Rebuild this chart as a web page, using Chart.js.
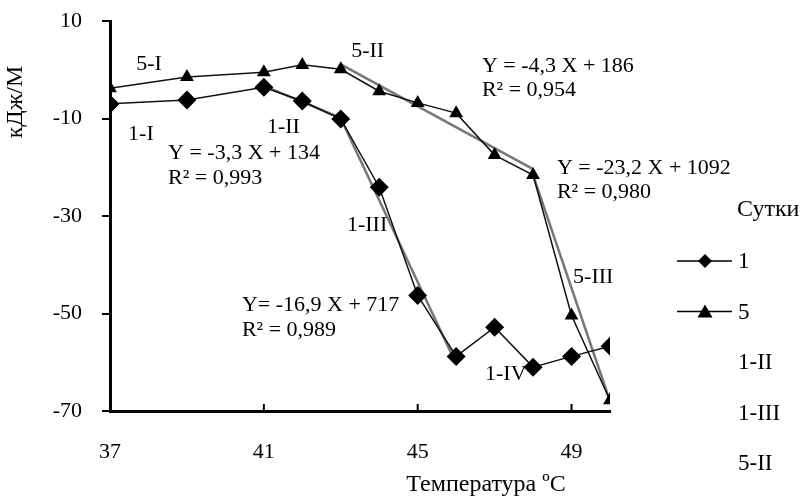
<!DOCTYPE html>
<html>
<head>
<meta charset="utf-8">
<script src="https://cdn.jsdelivr.net/npm/chart.js@4.4.1/dist/chart.umd.min.js"></script>
<style>
  html, body { margin: 0; padding: 0; background: #fff; }
  #wrap { width: 805px; height: 497px; position: relative; }
</style>
</head>
<body>
<div id="wrap"><canvas id="myChart"></canvas></div>
<script>
const FONT = "'Liberation Serif', 'DejaVu Serif', serif";

// temperature (ºC)
const temps = [37, 39, 41, 42, 43, 44, 45, 46, 47, 48, 49, 50];
// day 1 and day 5, kJ/M
const day1 = [-7.0, -6.2, -3.6, -6.4, -10.1, -24.1, -46.3, -58.8, -52.8, -61.0, -58.8, -56.7];
const day5 = [-3.8, -1.5, -0.5, 1.0, 0.1, -4.4, -6.8, -8.9, -17.5, -21.6, -50.4, -67.8];

// trend segments (x, y endpoints)
const trend1II = { x: [41, 43], y: [-3.3, -9.9] };
const trend1III = { x: [43, 46], y: [-10.0, -60.3] };
const trend5II = { x: [43, 48], y: [1.1, -20.4] };
const trend5III = { x: [48, 50], y: [-21.6, -68.0] };

const xTicks = [37, 41, 45, 49];
const yTicks = [-70, -50, -30, -10, 10];

const legendTitle = "Сутки";
const legendItems = ["1", "5", "1-II", "1-III", "5-II"];

// text notes placed on the plot: [text, x, y] in data units
const notes = [
  ["5-I", 37.68, 1.2],
  ["1-I", 37.47, -13.3],
  ["1-II", 41.08, -11.8],
  ["5-II", 43.27, 3.7],
  ["Y = -3,3 X + 134", 38.51, -17.2],
  ["R² = 0,993", 38.51, -22.3],
  ["Y = -4,3 X + 186", 46.67, 0.7],
  ["R² = 0,954", 46.67, -4.3],
  ["Y = -23,2 X + 1092", 48.62, -20.3],
  ["R² = 0,980", 48.62, -25.2],
  ["1-III", 43.16, -31.9],
  ["Y= -16,9 X + 717", 40.43, -48.3],
  ["R² = 0,989", 40.43, -53.4],
  ["5-III", 49.04, -42.6],
  ["1-IV", 46.75, -62.4]
];

function pts(xs, ys) {
  return xs.map((x, i) => ({ x: x, y: ys[i] }));
}

const trendStyle = {
  showLine: true,
  borderColor: "#777",
  borderWidth: 2.5,
  pointRadius: 0,
  fill: false,
  order: 3,
};

const extras = {
  id: "extras",
  afterDraw(chart) {
    const c = chart.ctx;
    const xs = chart.scales.x;
    const ys = chart.scales.y;
    const area = chart.chartArea;
    c.save();
    // inner ticks on x axis
    c.strokeStyle = "#000";
    c.lineWidth = 2;
    xTicks.forEach((t) => {
      if (t === xs.min) return;
      const px = xs.getPixelForValue(t);
      c.beginPath();
      c.moveTo(px, area.bottom);
      c.lineTo(px, area.bottom - 7);
      c.stroke();
    });

    c.fillStyle = "#000";
    c.font = "22px " + FONT;
    c.textBaseline = "middle";
    c.textAlign = "left";
    notes.forEach((n) => {
      c.fillText(n[0], xs.getPixelForValue(n[1]), ys.getPixelForValue(n[2]));
    });

    // axis titles
    c.font = "24px " + FONT;
    c.textAlign = "center";
    c.fillText("Температура ºC", 486, 485);
    c.save();
    c.translate(16, 102);
    c.rotate(-Math.PI / 2);
    c.fillText("кДж/М", 0, 0);
    c.restore();

    // legend
    c.textAlign = "left";
    c.font = "24px " + FONT;
    c.fillText(legendTitle, 737, 210);
    c.font = "23px " + FONT;
    legendItems.forEach((lab, i) => {
      const y = 261 + i * 50.5;
      const ds = chart.data.datasets[i];
      if (i < 2) {
        c.strokeStyle = "#000";
        c.lineWidth = 1.5;
        c.beginPath();
        c.moveTo(677, y);
        c.lineTo(732, y);
        c.stroke();
        c.fillStyle = "#000";
        c.beginPath();
        if (ds.pointStyle === "rectRot") {
          c.moveTo(705, y - 7);
          c.lineTo(712, y);
          c.lineTo(705, y + 7);
          c.lineTo(698, y);
        } else {
          c.moveTo(705, y - 7);
          c.lineTo(712.5, y + 6);
          c.lineTo(697.5, y + 6);
        }
        c.closePath();
        c.fill();
      }
      c.fillStyle = "#000";
      c.fillText(lab, 738, y + 1);
    });
    c.restore();
  },
};

const ctx = document.getElementById("myChart").getContext("2d");
const myChart = new Chart(ctx, {
  type: "scatter",
  data: {
    datasets: [
      {
        label: "1",
        data: pts(temps, day1),
        showLine: true,
        borderColor: "#111",
        backgroundColor: "#000",
        borderWidth: 1.5,
        pointStyle: "rectRot",
        pointRadius: 9.5,
        pointBorderWidth: 0,
        order: 1,
      },
      {
        label: "5",
        data: pts(temps, day5),
        showLine: true,
        borderColor: "#111",
        backgroundColor: "#000",
        borderWidth: 1.5,
        pointStyle: "triangle",
        pointRadius: 8,
        pointBorderWidth: 0,
        order: 1,
      },
      Object.assign({ label: "1-II", data: pts(trend1II.x, trend1II.y) }, trendStyle),
      Object.assign({ label: "1-III", data: pts(trend1III.x, trend1III.y) }, trendStyle),
      Object.assign({ label: "5-II", data: pts(trend5II.x, trend5II.y) }, trendStyle),
      Object.assign({ label: "5-III", data: pts(trend5III.x, trend5III.y) }, trendStyle),
    ],
  },
  options: {
    responsive: true,
    maintainAspectRatio: false,
    animation: false,
    layout: { padding: { top: 21, right: 195, left: 0, bottom: 0 } },
    plugins: {
      legend: { display: false },
      tooltip: { enabled: false },
    },
    scales: {
      x: {
        type: "linear",
        min: 37,
        max: 50,
        afterBuildTicks: (s) => { s.ticks = xTicks.map((v) => ({ value: v })); },
        afterFit: (s) => { s.height = 86; s.paddingLeft = 0; s.paddingRight = 0; },
        grid: { display: false },
        border: { display: true, color: "#000", width: 3 },
        ticks: {
          color: "#000",
          font: { family: FONT, size: 22 },
          padding: 20,
          maxRotation: 0,
        },
      },
      y: {
        type: "linear",
        min: -70,
        max: 10,
        afterBuildTicks: (s) => { s.ticks = yTicks.map((v) => ({ value: v })); },
        afterFit: (s) => { s.width = 110; s.paddingTop = 0; s.paddingBottom = 0; },
        grid: {
          drawOnChartArea: false,
          drawTicks: true,
          tickLength: 8,
          color: "#000",
          lineWidth: 2,
        },
        border: { display: true, color: "#000", width: 3 },
        ticks: {
          color: "#000",
          font: { family: FONT, size: 22 },
          padding: 20,
        },
      },
    },
  },
  plugins: [extras],
});
</script>
</body>
</html>
